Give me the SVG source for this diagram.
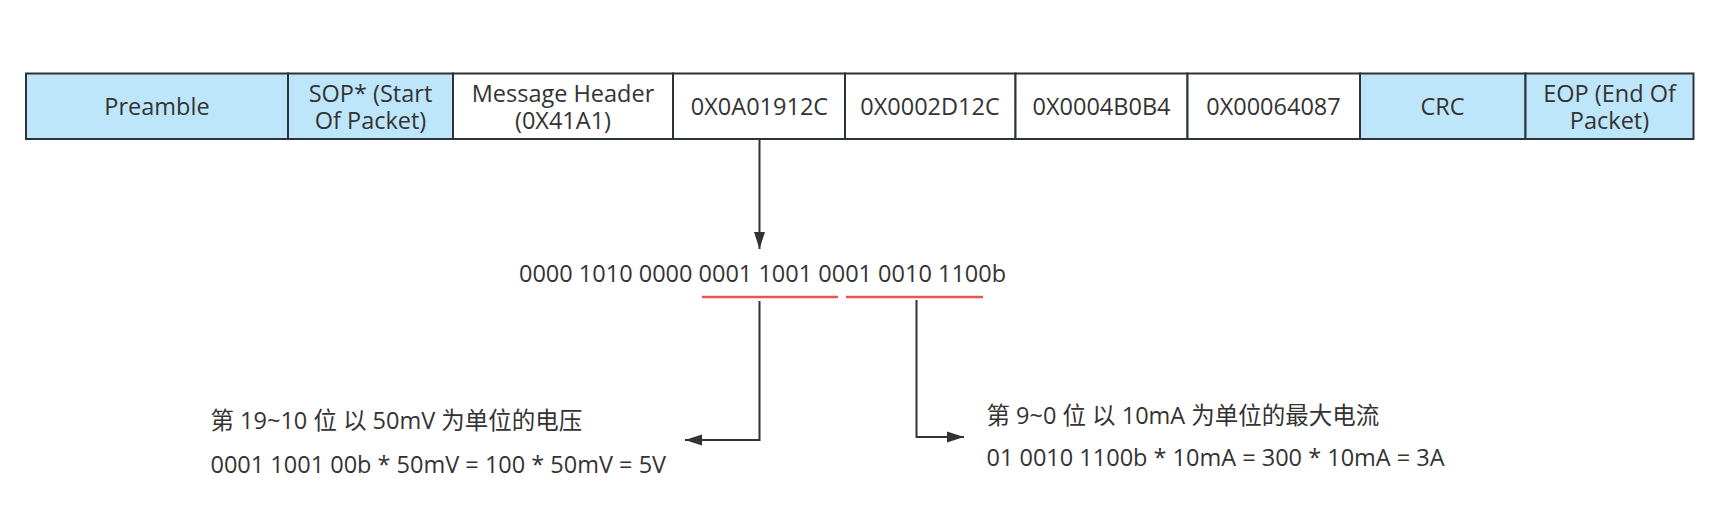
<svg xmlns="http://www.w3.org/2000/svg" width="1726" height="527" viewBox="0 0 1726 527">
<style>
.cell{stroke:#2d333a;stroke-width:2}
.blue{fill:#bee6fa}
.white{fill:#ffffff}
text{font-family:"Open Sans","Noto Sans CJK SC",sans-serif;font-size:23.5px;fill:#333333}
.c{text-anchor:middle}
.conn{fill:none;stroke:#333333;stroke-width:2}
.red{stroke:#e85555;stroke-width:2.5}
</style>
<defs>
<marker id="ah" markerUnits="userSpaceOnUse" markerWidth="17" markerHeight="12" refX="17" refY="6" orient="auto">
<path d="M0,0.5 L17,6 L0,11.5 z" fill="#333333"/>
</marker>
</defs>
<rect x="0" y="0" width="1726" height="527" fill="#ffffff"/>
<g id="preamble"><rect class="cell blue" x="26" y="73.5" width="262" height="65.5"/><text class="c" x="157" y="115">Preamble</text></g>
<g id="sop"><rect class="cell blue" x="288" y="73.5" width="165" height="65.5"/><text class="c" x="370.5" y="101.5">SOP* (Start</text><text class="c" x="370.5" y="128.5">Of Packet)</text></g>
<g id="header"><rect class="cell white" x="453" y="73.5" width="220" height="65.5"/><text class="c" x="563" y="101.5">Message Header</text><text class="c" x="563" y="128.5">(0X41A1)</text></g>
<g id="d1"><rect class="cell white" x="673" y="73.5" width="172" height="65.5"/><text class="c" x="759.5" y="115">0X0A01912C</text></g>
<g id="d2"><rect class="cell white" x="845" y="73.5" width="170.5" height="65.5"/><text class="c" x="930" y="115">0X0002D12C</text></g>
<g id="d3"><rect class="cell white" x="1015.5" y="73.5" width="172" height="65.5"/><text class="c" x="1101.5" y="115">0X0004B0B4</text></g>
<g id="d4"><rect class="cell white" x="1187.5" y="73.5" width="172.5" height="65.5"/><text class="c" x="1273.5" y="115">0X00064087</text></g>
<g id="crc"><rect class="cell blue" x="1360" y="73.5" width="165.5" height="65.5"/><text class="c" x="1442.5" y="115">CRC</text></g>
<g id="eop"><rect class="cell blue" x="1525.5" y="73.5" width="168" height="65.5"/><text class="c" x="1609.5" y="101.5">EOP (End Of</text><text class="c" x="1609.5" y="128.5">Packet)</text></g>
<g id="binary"><text x="519" y="282">0000 1010 0000 0001 1001 0001 0010 1100b</text>
<line class="red" x1="702" y1="297" x2="838" y2="297"/><line class="red" x1="846" y1="297" x2="983" y2="297"/></g>
<g id="voltage"><text x="210.5" y="428.5">第 19~10 位 以 50mV 为单位的电压</text><text x="210.5" y="473">0001 1001 00b * 50mV = 100 * 50mV = 5V</text></g>
<g id="current"><text x="986.5" y="423.5">第 9~0 位 以 10mA 为单位的最大电流</text><text x="986.5" y="465.5">01 0010 1100b * 10mA = 300 * 10mA = 3A</text></g>
<g id="connectors">
<path class="conn" d="M759.5,139 V249" marker-end="url(#ah)"/>
<path class="conn" d="M759.5,301 V440 H685" marker-end="url(#ah)"/>
<path class="conn" d="M916.5,300 V437 H964" marker-end="url(#ah)"/>
</g>
</svg>
